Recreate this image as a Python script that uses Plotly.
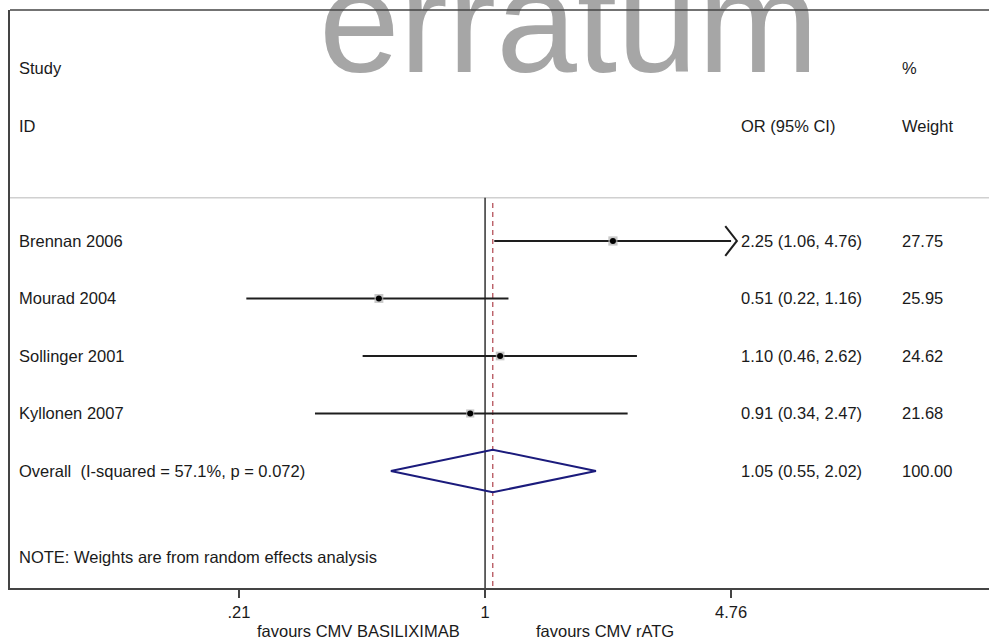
import math
import plotly.graph_objects as go

# ---- data ----
studies = ["Brennan 2006", "Mourad 2004", "Sollinger 2001", "Kyllonen 2007"]
or_est = [2.25, 0.51, 1.10, 0.91]
ci_low = [1.06, 0.22, 0.46, 0.34]
ci_high = [4.76, 1.16, 2.62, 2.47]
weights = [27.75, 25.95, 24.62, 21.68]
overall_label = "Overall  (I-squared = 57.1%, p = 0.072)"
overall_est = 1.05
overall_low = 0.55
overall_high = 2.02
overall_weight = 100.00
tick_vals = [0.21, 1, 4.76]
tick_text = [".21", "1", "4.76"]
axis_max = 4.76

FONT = "Arial, 'Liberation Sans', sans-serif"
TXT = "#1a1a1a"
FS = 16.5

fig = go.Figure()

# row positions
rows = list(range(len(studies)))
overall_row = len(studies)
sep_row = -0.75
top_y = -4.017
bot_y = 6.035

# null line at 1
fig.add_trace(go.Scatter(x=[1, 1], y=[sep_row, bot_y], mode="lines",
                         line=dict(color="#333333", width=1.5),
                         hoverinfo="skip", showlegend=False))
# overall dashed line
fig.add_trace(go.Scatter(x=[overall_est, overall_est], y=[sep_row + 0.09, bot_y], mode="lines",
                         line=dict(color="#b5515a", width=1.3, dash="5px,4px"),
                         hoverinfo="skip", showlegend=False))

# CI lines
for i, (lo, hi) in enumerate(zip(ci_low, ci_high)):
    fig.add_trace(go.Scatter(x=[lo, min(hi, axis_max)], y=[i, i], mode="lines",
                             line=dict(color="#1e1e1e", width=2),
                             hoverinfo="skip", showlegend=False))
    if hi >= axis_max:
        f = 10 ** 0.016
        fig.add_trace(go.Scatter(x=[axis_max / f, axis_max * f, axis_max / f],
                                 y=[i - 0.26, i, i + 0.26], mode="lines",
                                 line=dict(color="#1e1e1e", width=2),
                                 hoverinfo="skip", showlegend=False))

# weight boxes
fig.add_trace(go.Scatter(x=or_est, y=rows, mode="markers",
                         marker=dict(symbol="square", color="#b0b0b0",
                                     size=[math.sqrt(w) * 1.75 for w in weights],
                                     line=dict(width=0)),
                         hoverinfo="skip", showlegend=False))
# point estimates
fig.add_trace(go.Scatter(x=or_est, y=rows, mode="markers",
                         marker=dict(symbol="circle", color="#000000", size=6),
                         hoverinfo="skip", showlegend=False))

# overall diamond
fig.add_trace(go.Scatter(x=[overall_low, overall_est, overall_high, overall_est, overall_low],
                         y=[overall_row, overall_row - 0.37, overall_row,
                            overall_row + 0.37, overall_row],
                         mode="lines", line=dict(color="#1b1b7c", width=2),
                         hoverinfo="skip", showlegend=False))

# watermark
fig.add_trace(go.Scatter(x=[1.70], y=[-3.566], mode="text", text=["erratum"],
                         textfont=dict(family=FONT, size=145, color="#a6a6a6"),
                         cliponaxis=False, hoverinfo="skip", showlegend=False))

ann = []
def txt(x, y, s, xanchor="left", xref="paper", yref="y"):
    ann.append(dict(x=x, y=y, xref=xref, yref=yref, text=s, showarrow=False,
                    xanchor=xanchor, yanchor="middle",
                    font=dict(family=FONT, size=FS, color=TXT)))

def px2paper(px):
    return (px - 10) / 979.0

x_study = px2paper(16.5)
x_or = px2paper(738.5)
x_w = px2paper(899.5)

txt(x_study, -3, "Study")
txt(x_study, -2, "ID")
txt(x_or, -2, "OR (95% CI)")
txt(x_w, -3, "%")
txt(x_w, -2, "Weight")

for i, s in enumerate(studies):
    txt(x_study, i, s)
    txt(x_or, i, f"{or_est[i]:.2f} ({ci_low[i]:.2f}, {ci_high[i]:.2f})")
    txt(x_w, i, f"{weights[i]:.2f}")

txt(x_study, overall_row, overall_label)
txt(x_or, overall_row, f"{overall_est:.2f} ({overall_low:.2f}, {overall_high:.2f})")
txt(x_w, overall_row, f"{overall_weight:.2f}")
txt(x_study, 5.5, "NOTE: Weights are from random effects analysis")

ann.append(dict(x=px2paper(358), y=-0.074, xref="paper", yref="paper",
                text="favours CMV BASILIXIMAB", showarrow=False,
                xanchor="center", yanchor="middle",
                font=dict(family=FONT, size=FS, color=TXT)))
ann.append(dict(x=px2paper(605), y=-0.074, xref="paper", yref="paper",
                text="favours CMV rATG", showarrow=False,
                xanchor="center", yanchor="middle",
                font=dict(family=FONT, size=FS, color=TXT)))

shapes = [
    dict(type="line", xref="paper", yref="paper", x0=0, x1=1, y0=1, y1=1,
         line=dict(color="#444444", width=1.5), layer="above"),
    dict(type="line", xref="paper", yref="y", x0=0, x1=1, y0=sep_row, y1=sep_row,
         line=dict(color="#d0d0d0", width=1.5), layer="below"),
]

fig.update_layout(
    width=989, height=638,
    margin=dict(l=10, r=0, t=10, b=50),
    paper_bgcolor="white", plot_bgcolor="white",
    font=dict(family=FONT, size=FS, color=TXT),
    annotations=ann, shapes=shapes, showlegend=False,
    xaxis=dict(type="log", range=[-1.3085, 1.388],
               tickvals=tick_vals, ticktext=tick_text,
               ticks="outside", ticklen=8, tickwidth=1.5, tickcolor="#444444",
               showline=True, linecolor="#444444", linewidth=1.5,
               showgrid=False, zeroline=False,
               tickfont=dict(family=FONT, size=FS, color=TXT)),
    yaxis=dict(range=[bot_y, top_y], showline=True, linecolor="#444444", linewidth=1.5,
               showticklabels=False, ticks="", showgrid=False, zeroline=False),
)

fig.write_html("out.html", config={"displayModeBar": False},
               post_script="document.body.style.margin='0';document.body.style.overflow='hidden';")
